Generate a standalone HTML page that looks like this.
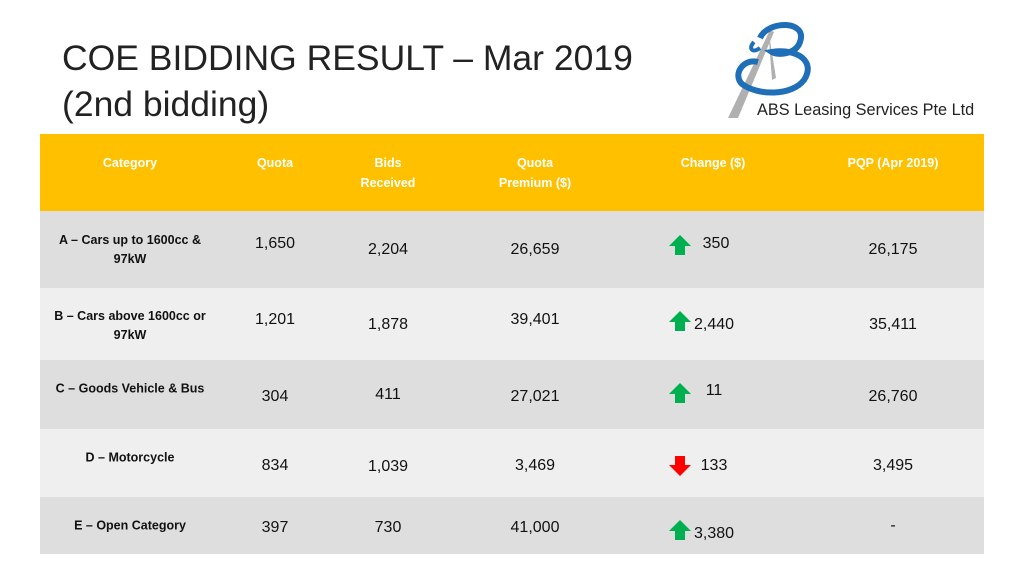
<!DOCTYPE html>
<html><head><meta charset="utf-8"><style>
body{margin:0;width:1024px;height:576px;background:#fff;position:relative;overflow:hidden;font-family:"Liberation Sans",sans-serif}
.t{position:absolute;transform:translate(-50%,-50%);white-space:nowrap;text-align:center;color:#111}
.h{color:#fff;font-weight:bold;font-size:12.5px;line-height:20px}
.l{font-weight:bold;font-size:12.5px;line-height:19px}
.n{font-size:16px}
.row{position:absolute;left:40px;width:944px}
</style></head><body>
<div style="position:absolute;left:62px;top:35px;font-size:35.5px;line-height:46px;color:#222">COE BIDDING RESULT – Mar 2019<br>(2nd bidding)</div>
<svg style="position:absolute;left:728px;top:18px" width="100" height="100" viewBox="0 0 100 100">
<path d="M0 100 L42 12 L46 14 L10 100 Z" fill="#b0b0b0"/>
<path d="M40 10 L48 60 L44 62 Z" fill="#b0b0b0"/>
<path d="M32 20 C40 2 80 2 72 24 C68 36 50 38 44 34 C70 30 88 44 76 62 C64 78 30 78 14 66 C4 56 16 40 30 44" fill="none" stroke="#1f6fb8" stroke-width="6"/>
<path d="M26 24 C20 30 24 36 32 30" fill="none" stroke="#1f6fb8" stroke-width="4"/>
</svg>
<div style="position:absolute;left:757px;top:101px;font-size:16.3px;color:#222">ABS Leasing Services Pte Ltd</div>

<div class="row" style="top:134px;height:77px;background:#ffc000"></div>
<div class="row" style="top:211px;height:77px;background:#dedede"></div>
<div class="row" style="top:288px;height:72px;background:#efefef"></div>
<div class="row" style="top:360px;height:69px;background:#dedede"></div>
<div class="row" style="top:429px;height:68px;background:#efefef"></div>
<div class="row" style="top:497px;height:57px;background:#dedede"></div>

<div class="t h" style="left:130px;top:163px">Category</div>
<div class="t h" style="left:275px;top:163px">Quota</div>
<div class="t h" style="left:388px;top:173px">Bids<br>Received</div>
<div class="t h" style="left:535px;top:173px">Quota<br>Premium ($)</div>
<div class="t h" style="left:713px;top:163px">Change ($)</div>
<div class="t h" style="left:893px;top:163px">PQP (Apr 2019)</div>

<div id="cells"></div>
<script>
const labels=[["A – Cars up to 1600cc &","97kW"],["B – Cars above 1600cc or","97kW"],["C – Goods Vehicle & Bus"],["D – Motorcycle"],["E – Open Category"]];
const labelY=[250,326,389,458,526];
const quota=["1,650","1,201","304","834","397"],quotaY=[244,320,397,466,528];
const bids=["2,204","1,878","411","1,039","730"],bidsY=[250,325,395,467,528];
const prem=["26,659","39,401","27,021","3,469","41,000"],premY=[250,320,397,466,528];
const chg=["350","2,440","11","133","3,380"],chgY=[244,325,391,466,534],chgUp=[1,1,1,0,1],arrY=[245,321,393,466,530],chgX=[716,714,714,714,714];
const pqp=["26,175","35,411","26,760","3,495","-"],pqpY=[250,325,397,466,526];
const c=document.getElementById('cells');
function add(cls,x,y,html,name){const d=document.createElement('div');d.className='t '+cls;d.style.left=x+'px';d.style.top=y+'px';d.innerHTML=html;


c.appendChild(d);}
for(let i=0;i<5;i++){
 add('l',130,labelY[i],labels[i].join('<br>'),'category-label');
 add('n',275,quotaY[i],quota[i],'quota-value');
 add('n',388,bidsY[i],bids[i],'bids-value');
 add('n',535,premY[i],prem[i],'premium-value');
 add('n',chgX[i],chgY[i],chg[i],'change-value');
 add('n',893,pqpY[i],pqp[i],'pqp-value');
 const s=document.createElementNS('http://www.w3.org/2000/svg','svg');
 s.setAttribute('width','24');s.setAttribute('height','22');
 s.style.cssText='position:absolute;left:668px;top:'+(arrY[i]-11)+'px';
 s.innerHTML=chgUp[i]?'<path d="M12 1 L23 12 L17 12 L17 21 L7 21 L7 12 L1 12 Z" fill="#00b050"/>':'<path d="M12 21 L23 10 L17 10 L17 1 L7 1 L7 10 L1 10 Z" fill="#ff0000"/>';
 
 
 c.appendChild(s);
}
</script>
</body></html>
